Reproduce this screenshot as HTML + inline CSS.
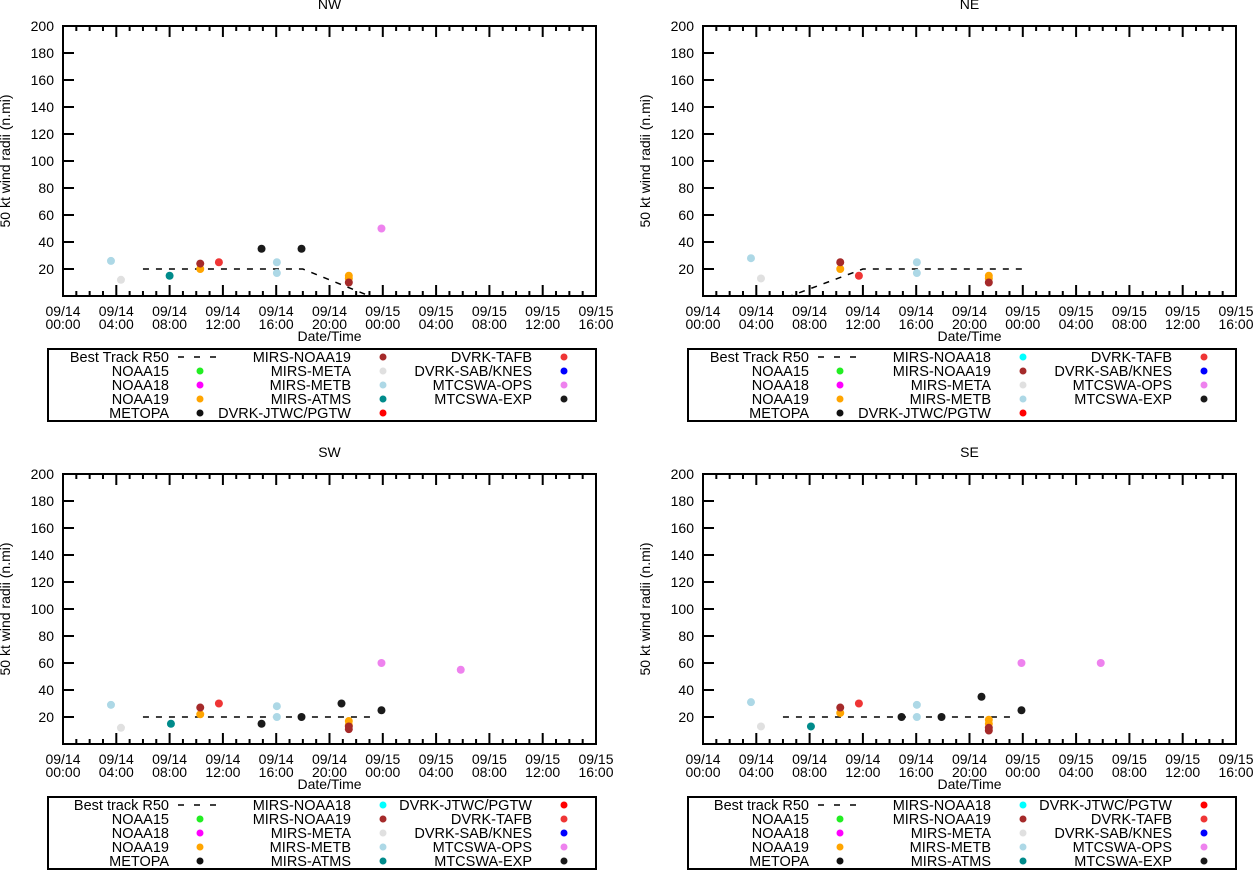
<!DOCTYPE html>
<html><head><meta charset="utf-8"><style>
body{margin:0;background:#fff}
svg text{font-family:"Liberation Sans",sans-serif;font-size:14px;fill:#000}
svg text.lg{font-size:14.5px}
</style></head><body>
<svg id="c" width="1253" height="870" xmlns="http://www.w3.org/2000/svg"></svg>
<script>
// ---- data (hours since 09/14 00:00, wind radii n.mi) ----
const xTickLabelsTop = ["09/14","09/14","09/14","09/14","09/14","09/14","09/15","09/15","09/15","09/15","09/15"];
const xTickLabelsBot = ["00:00","04:00","08:00","12:00","16:00","20:00","00:00","04:00","08:00","12:00","16:00"];
const yTicks = [20,40,60,80,100,120,140,160,180,200];

const nwBestT = [6,12,18,23];
const nwBestV = [20,20,20,0];
const nwTimes  = [3.6,4.35,8.0,10.3,10.3,11.7,14.9,16.05,16.05,17.9,21.45,21.45,21.45,23.9];
const nwValues = [26,12,15,20,24,25,35,25,17,35,15,13,10,50];
const nwSeries = ["METB","META","ATMS","N19","MN19","TAFB","EXP","METB","METB","EXP","N19","N19","MN19","OPS"];

const neBestT = [6.3,12,18,24];
const neBestV = [-1,20,20,20];
const neTimes  = [3.6,4.35,10.3,10.3,11.7,16.05,16.05,21.45,21.45,21.45];
const neValues = [28,13,20,25,15,25,17,15,13,10];
const neSeries = ["METB","META","N19","MN19","TAFB","METB","METB","N19","N19","MN19"];

const swBestT = [6,12,18,23.5];
const swBestV = [20,20,20,20];
const swTimes  = [3.6,4.35,8.1,10.3,10.3,11.7,14.9,16.05,16.05,17.9,20.9,21.45,21.45,21.45,21.45,23.9,23.9,29.85];
const swValues = [29,12,15,22,27,30,15,28,20,20,30,17,14,13,11,60,25,55];
const swSeries = ["METB","META","ATMS","N19","MN19","TAFB","EXP","METB","METB","EXP","EXP","N19","N19","MN19","MN19","OPS","EXP","OPS"];

const seBestT = [6,12,18,23.5];
const seBestV = [20,20,20,20];
const seTimes  = [3.6,4.35,8.1,10.3,10.3,11.7,14.9,16.05,16.05,17.9,20.9,21.45,21.45,21.45,21.45,23.9,23.9,29.85];
const seValues = [31,13,13,23,27,30,20,29,20,20,35,18,15,12,10,60,25,60];
const seSeries = ["METB","META","ATMS","N19","MN19","TAFB","EXP","METB","METB","EXP","EXP","N19","N19","MN19","MN19","OPS","EXP","OPS"];

const colors = {N15:"#22ee22",N18:"#ff00ff",N19:"#ffa500",METOPA:"#111",MN18:"#00ffff",MN19:"#a52a2a",META:"#e0e0e0",METB:"#add8e6",ATMS:"#008b8b",JTWC:"#ff0000",TAFB:"#ef3535",SAB:"#0000ff",OPS:"#ee82ee",EXP:"#1a1a1a"};

const S="http://www.w3.org/2000/svg";
const svg=document.getElementById('c');
function mk(tag,attrs,parent){const e=document.createElementNS(S,tag);for(const k in attrs)e.setAttribute(k,attrs[k]);(parent||svg).appendChild(e);return e;}
const W=533,H=270,HMAX=40;

function panel(key,title,ox,oy,bestT,bestV,times,values,series,legend){
  const g=mk('g',{});
  
  
  const xs=h=>ox+h*W/HMAX, ys=v=>oy+H-v*H/200;
  const t=mk('text',{x:ox+W/2,y:oy-17,'text-anchor':'middle'},g);t.textContent=title;
  
  for(let h=0;h<=HMAX;h++){
    const L=h%4==0?11:5, x=xs(h);
    mk('line',{x1:x,x2:x,y1:oy+H,y2:oy+H-L,stroke:'#000','stroke-width':2},g);
    mk('line',{x1:x,x2:x,y1:oy,y2:oy+L,stroke:'#000','stroke-width':2},g);
    if(h%4==0){const i=h/4;
      const a=mk('text',{x:x,y:oy+H+20,'text-anchor':'middle'},g);a.textContent=xTickLabelsTop[i];
      
      const b=mk('text',{x:x,y:oy+H+33,'text-anchor':'middle'},g);b.textContent=xTickLabelsBot[i];
      }
  }
  yTicks.forEach(v=>{const y=ys(v);
    mk('line',{x1:ox,x2:ox+11,y1:y,y2:y,stroke:'#000','stroke-width':2},g);
    const l=mk('text',{x:ox-9,y:y+5,'text-anchor':'end'},g);l.textContent=v;
    });
  mk('rect',{x:ox,y:oy,width:W,height:H,fill:'none',stroke:'#000','stroke-width':2},g);
  const xl=mk('text',{x:ox+W/2,y:oy+H+45,'text-anchor':'middle'},g);xl.textContent='Date/Time';
  
  const yl=mk('text',{x:0,y:0,'text-anchor':'middle',transform:`translate(${ox-53},${oy+H/2}) rotate(-90)`},g);yl.textContent='50 kt wind radii (n.mi)';
  
  const cp=mk('clipPath',{id:'cp'+key},g);mk('rect',{x:ox,y:oy,width:W,height:H},cp);
  const pl=mk('polyline',{points:bestT.map((h,i)=>xs(h)+','+ys(bestV[i])).join(' '),fill:'none',stroke:'#000','stroke-width':1.5,'stroke-dasharray':'6,7','clip-path':`url(#cp${key})`},g);
  
  times.forEach((h,i)=>{const c=mk('circle',{cx:xs(h),cy:ys(values[i]),r:4,fill:colors[series[i]]},g);
    });
  const ly=oy+H+53;
  const lb=mk('rect',{x:ox-15,y:ly,width:W+15,height:72,fill:'none',stroke:'#000','stroke-width':2},g);
  
  const colR=[106,288,469], mark=[137,320,501];
  legend.forEach((col,ci)=>col.forEach((en,ri)=>{
    const y=ly+8+ri*14;
    const tx=mk('text',{x:ox+colR[ci],y:y+5,'text-anchor':'end','class':'lg'},g);tx.textContent=en[0];
    
    if(en[1]==='dash') mk('line',{x1:ox+mark[ci]-22,x2:ox+mark[ci]+16,y1:y,y2:y,stroke:'#000','stroke-width':1.5,'stroke-dasharray':'6,10'},g);
    else mk('circle',{cx:ox+mark[ci],cy:y,r:3.5,fill:colors[en[1]]},g);
  }));
}
const c1a=[["Best Track R50","dash"],["NOAA15","N15"],["NOAA18","N18"],["NOAA19","N19"],["METOPA","METOPA"]];
const c1b=[["Best track R50","dash"],["NOAA15","N15"],["NOAA18","N18"],["NOAA19","N19"],["METOPA","METOPA"]];
const c3a=[["DVRK-TAFB","TAFB"],["DVRK-SAB/KNES","SAB"],["MTCSWA-OPS","OPS"],["MTCSWA-EXP","EXP"]];
const c3b=[["DVRK-JTWC/PGTW","JTWC"],["DVRK-TAFB","TAFB"],["DVRK-SAB/KNES","SAB"],["MTCSWA-OPS","OPS"],["MTCSWA-EXP","EXP"]];
panel('nw','NW',63,26,nwBestT,nwBestV,nwTimes,nwValues,nwSeries,[c1a,[["MIRS-NOAA19","MN19"],["MIRS-META","META"],["MIRS-METB","METB"],["MIRS-ATMS","ATMS"],["DVRK-JTWC/PGTW","JTWC"]],c3a]);
panel('ne','NE',703,26,neBestT,neBestV,neTimes,neValues,neSeries,[c1a,[["MIRS-NOAA18","MN18"],["MIRS-NOAA19","MN19"],["MIRS-META","META"],["MIRS-METB","METB"],["DVRK-JTWC/PGTW","JTWC"]],c3a]);
const c2s=[["MIRS-NOAA18","MN18"],["MIRS-NOAA19","MN19"],["MIRS-META","META"],["MIRS-METB","METB"],["MIRS-ATMS","ATMS"]];
panel('sw','SW',63,474,swBestT,swBestV,swTimes,swValues,swSeries,[c1b,c2s,c3b]);
panel('se','SE',703,474,seBestT,seBestV,seTimes,seValues,seSeries,[c1b,c2s,c3b]);
</script>
</body></html>
